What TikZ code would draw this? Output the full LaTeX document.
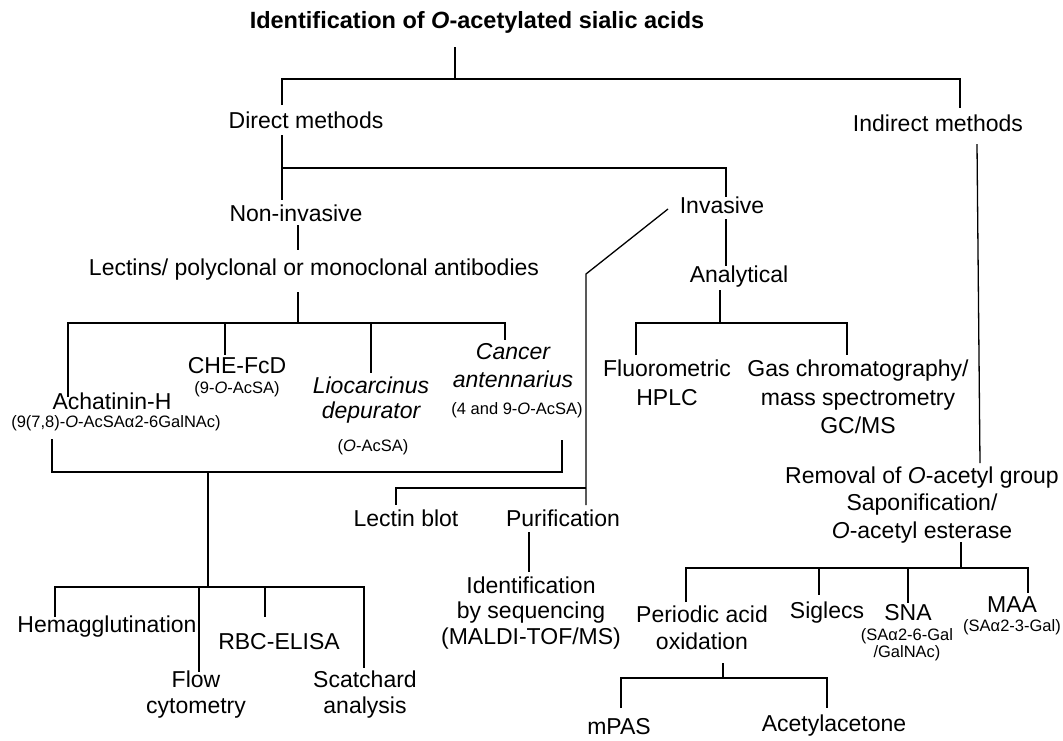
\documentclass[tikz,border=0pt]{standalone}
\usepackage{fontspec}
\setmainfont{Liberation Sans}
\begin{document}
\begin{tikzpicture}[x=1pt,y=-1pt,
  lbl/.style={font=\fontsize{23}{27}\selectfont, inner sep=0pt, align=center},
  sub/.style={font=\fontsize{16.5}{17}\selectfont, inner sep=0pt, align=center},
  ttl/.style={font=\fontsize{23.5}{27}\selectfont\bfseries, inner sep=0pt},
  conn/.style={line width=1.3pt, line join=miter}]
\useasboundingbox (0,0) rectangle (1063,740);

% ---------- nodes ----------
\node[ttl] (title) at (477,22) {Identification of \textit{O}-acetylated sialic acids};
\node[lbl] (direct) at (306,120) {Direct methods};
\node[lbl] (indirect) at (938,123) {Indirect methods};
\node[lbl] (noninv) at (296,213) {Non-invasive};
\node[lbl] (inv) at (722,205) {Invasive};
\node[lbl] (lectins) at (314,270) {Lectins/ polyclonal or monoclonal antibodies};
\node[lbl] (analytical) at (739,277) {Analytical};

\node[lbl] (achat) at (112,401) {Achatinin-H};
\node[sub] (achatsub) at (116,423) {(9(7,8)-\textit{O}-AcSAα2-6GalNAc)};
\node[lbl] (chefcd) at (237,366) {CHE-FcD};
\node[sub] (chesub) at (237,389) {(9-\textit{O}-AcSA)};
\node[lbl,font=\fontsize{23}{25}\selectfont\itshape] (lio) at (371,400) {Liocarcinus\\depurator};
\node[sub] (liosub) at (373,447) {(\textit{O}-AcSA)};
\node[lbl,font=\fontsize{23}{28}\selectfont\itshape] (cancer) at (513,366) {Cancer\\antennarius};
\node[sub] (cansub) at (517,410) {(4 and 9-\textit{O}-AcSA)};

\node[lbl,font=\fontsize{23}{29}\selectfont] (fluor) at (667,383) {Fluorometric\\HPLC};
\node[lbl,font=\fontsize{23}{28.5}\selectfont] (gcms) at (858,397) {Gas chromatography/\\mass spectrometry\\GC/MS};

\node[lbl,font=\fontsize{23}{27.5}\selectfont] (removal) at (922,505) {Removal of \textit{O}-acetyl group\\Saponification/\\\textit{O}-acetyl esterase};

\node[lbl] (lblot) at (406,518) {Lectin blot};
\node[lbl] (purif) at (563,518) {Purification};
\node[lbl,font=\fontsize{23}{25.5}\selectfont] (ident) at (531,613) {Identification\\by sequencing\\(MALDI-TOF/MS)};

\node[lbl] (hemag) at (107,627) {Hemagglutination};
\node[lbl,font=\fontsize{23}{26}\selectfont] (flow) at (196,695) {Flow\\cytometry};
\node[lbl] (rbc) at (279,642) {RBC-ELISA};
\node[lbl,font=\fontsize{23}{26}\selectfont] (scatch) at (365,695) {Scatchard\\analysis};

\node[lbl] (periodic) at (702,628) {Periodic acid\\oxidation};
\node[lbl] (siglecs) at (827,613) {Siglecs};
\node[lbl] (sna) at (908,613) {SNA};
\node[sub] (snasub) at (907,645) {(SAα2-6-Gal\\/GalNAc)};
\node[lbl] (maa) at (1012,605) {MAA};
\node[sub] (maasub) at (1012,627) {(SAα2-3-Gal)};
\node[lbl] (mpas) at (619,727) {mPAS};
\node[lbl] (acac) at (834,726) {Acetylacetone};

% ---------- junction coordinates ----------
\coordinate (t0) at (455,47);
\coordinate (t1) at (455,79);
\coordinate (dTop) at (282,105);
\coordinate (iTop) at (960,108);
\coordinate (d0) at (282,135);
\coordinate (dj) at (282,168);
\coordinate (d1) at (282,200);
\coordinate (invTop) at (726,197);
\coordinate (inv0) at (726,219);
\coordinate (inv1) at (726,266);
\coordinate (dg0) at (668,209);
\coordinate (dg1) at (586,274);
\coordinate (pj) at (586,488);
\coordinate (dg2) at (586,505);
\coordinate (lbTop) at (396,505);
\coordinate (n0) at (298,225);
\coordinate (n1) at (298,250);
\coordinate (l0) at (298,292);
\coordinate (lj) at (298,323);
\coordinate (achTop) at (68,397);
\coordinate (cheJ) at (225,323);
\coordinate (cheTop) at (225,355);
\coordinate (lioJ) at (371,323);
\coordinate (lioTop) at (371,373);
\coordinate (canTop) at (505,340);
\coordinate (achBot) at (52,439);
\coordinate (bj) at (208,472);
\coordinate (canBot) at (562,440);
\coordinate (bb) at (208,587);
\coordinate (hemTop) at (55,617);
\coordinate (flJ) at (199,587);
\coordinate (flTop) at (199,672);
\coordinate (rbJ) at (265,587);
\coordinate (rbTop) at (265,617);
\coordinate (scTop) at (364,668);
\coordinate (pu0) at (529,532);
\coordinate (pu1) at (529,572);
\coordinate (a0) at (720,290);
\coordinate (aj) at (720,323);
\coordinate (fTop) at (636,355);
\coordinate (gTop) at (847,355);
\coordinate (in0) at (977,144);
\coordinate (in1) at (980,463);
\coordinate (r0) at (961,542);
\coordinate (rj) at (961,568);
\coordinate (peTop) at (686,602);
\coordinate (siJ) at (819,568);
\coordinate (siTop) at (819,595);
\coordinate (snJ) at (908,568);
\coordinate (snTop) at (908,603);
\coordinate (maTop) at (1028,593);
\coordinate (p0) at (723,663);
\coordinate (pj2) at (723,678);
\coordinate (mpTop) at (621,708);
\coordinate (acTop) at (827,708);

% ---------- connectors ----------
\draw[conn] (t0) -- (t1);
\draw[conn] (dTop) |- (t1) -| (iTop);
\draw[conn] (d0) -- (d1);
\draw[conn] (dj) -| (invTop);
\draw[conn] (inv0) -- (inv1);
\draw[conn] (dg0) -- (dg1) -- (dg2);
\draw[conn] (pj) -| (lbTop);
\draw[conn] (n0) -- (n1);
\draw[conn] (l0) -- (lj);
\draw[conn] (achTop) |- (lj) -| (canTop);
\draw[conn] (cheJ) -- (cheTop);
\draw[conn] (lioJ) -- (lioTop);
\draw[conn] (achBot) |- (bj) -| (canBot);
\draw[conn] (bj) -- (bb);
\draw[conn] (hemTop) |- (bb) -| (scTop);
\draw[conn] (flJ) -- (flTop);
\draw[conn] (rbJ) -- (rbTop);
\draw[conn] (pu0) -- (pu1);
\draw[conn] (a0) -- (aj);
\draw[conn] (fTop) |- (aj) -| (gTop);
\draw[conn] (in0) -- (in1);
\draw[conn] (r0) -- (rj);
\draw[conn] (peTop) |- (rj) -| (maTop);
\draw[conn] (siJ) -- (siTop);
\draw[conn] (snJ) -- (snTop);
\draw[conn] (p0) -- (pj2);
\draw[conn] (mpTop) |- (pj2) -| (acTop);
\end{tikzpicture}
\end{document}
